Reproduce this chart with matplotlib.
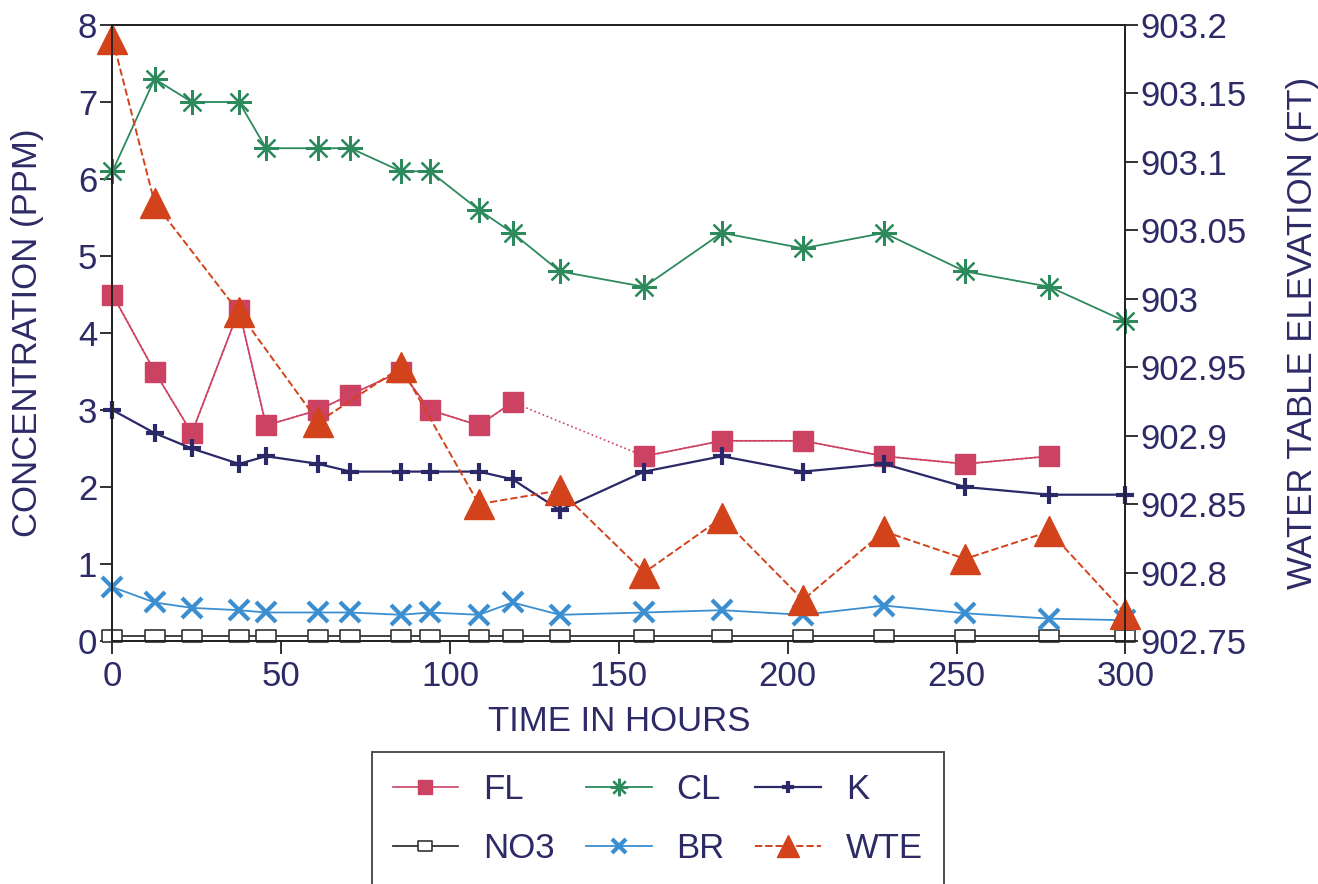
import numpy as np
import matplotlib.pyplot as plt
from matplotlib.ticker import FormatStrFormatter, MultipleLocator

plt.rcParams['font.family'] = ['Liberation Sans', 'DejaVu Sans']

# sampling times (hours)
hours = [0, 12.5, 23.5, 37.5, 45.5, 61, 70.5, 85.5, 94, 108.5, 118.5,
         132.5, 157.5, 180.5, 204.5, 228.5, 252.5, 277.5, 300]

# concentrations (ppm)
fl = [4.5, 3.5, 2.7, 4.3, 2.8, 3.0, 3.2, 3.5, 3.0, 2.8, 3.1,
      np.nan, 2.4, 2.6, 2.6, 2.4, 2.3, 2.4, np.nan]
cl = [6.1, 7.3, 7.0, 7.0, 6.4, 6.4, 6.4, 6.1, 6.1, 5.6, 5.3,
      4.8, 4.6, 5.3, 5.1, 5.3, 4.8, 4.6, 4.15]
k = [3.0, 2.7, 2.5, 2.3, 2.4, 2.3, 2.2, 2.2, 2.2, 2.2, 2.1,
     1.7, 2.2, 2.4, 2.2, 2.3, 2.0, 1.9, 1.9]
no3 = [0.06, 0.06, 0.06, 0.06, 0.06, 0.06, 0.06, 0.06, 0.06, 0.06, 0.06,
       0.06, 0.06, 0.06, 0.06, 0.06, 0.06, 0.06, 0.06]
br = [0.7, 0.5, 0.43, 0.4, 0.37, 0.37, 0.37, 0.34, 0.37, 0.34, 0.5,
      0.34, 0.37, 0.4, 0.34, 0.46, 0.36, 0.29, 0.27]

# water table elevation (ft)
wte = [903.19, 903.07, np.nan, 902.99, np.nan, 902.91, np.nan, 902.95, np.nan,
       902.85, np.nan, 902.86, 902.80, 902.84, 902.78, 902.83, 902.81, 902.83, 902.77]

navy = '#2d2a66'
c_fl = '#cc4262'
c_cl = '#2c8a5c'
c_k = '#2b2868'
c_no3 = '#333333'
c_br = '#3b8fd0'
c_wte = '#d2431c'

t = np.array(hours)
fl = np.array(fl)
wte = np.array(wte)

fig = plt.figure(figsize=(13.18, 8.84), dpi=100)
ax = fig.add_axes([0.0853, 0.2749, 0.7686, 0.6968])
ax2 = ax.twinx()

rect = [(-1.5, -1), (1.5, -1), (1.5, 1), (-1.5, 1), (-1.5, -1)]

okf = ~np.isnan(fl)
ax.plot(t[okf], fl[okf], ':', color=c_fl, lw=1.2, clip_on=False)
h_fl, = ax.plot(t, fl, '-', color=c_fl, lw=1.2, marker='s', ms=14,
                mfc=c_fl, mec=c_fl, clip_on=False, label='FL')
h_cl, = ax.plot(t, cl, '-', color=c_cl, lw=1.3, marker=(8, 2, 0), ms=18,
                mew=1.6, clip_on=False, label='CL')
h_k, = ax.plot(t, k, '-', color=c_k, lw=1.6, marker='+', ms=13,
               mew=3, clip_on=False, label='K')
h_no3, = ax.plot(t, no3, '-', color=c_no3, lw=1.3, marker=rect, ms=14,
                 mfc='white', mec=c_no3, mew=1.2, clip_on=False, label='NO3')
h_br, = ax.plot(t, br, '-', color=c_br, lw=1.3, marker='x', ms=14,
                mew=3, clip_on=False, label='BR')

okw = ~np.isnan(wte)
h_wte, = ax2.plot(t[okw], wte[okw], '--', color=c_wte, lw=1.4, marker='^',
                  ms=22, mfc=c_wte, mec=c_wte, clip_on=False, label='WTE')

ax.set_xlim(0, 300)
ax.set_ylim(0, 8)
ax2.set_ylim(902.75, 903.2)
ax.xaxis.set_major_locator(MultipleLocator(50))
ax.yaxis.set_major_locator(MultipleLocator(1))
ax2.yaxis.set_major_locator(MultipleLocator(0.05))
ax2.yaxis.set_major_formatter(FormatStrFormatter('%g'))

for a in (ax, ax2):
    a.tick_params(labelsize=25, labelcolor=navy, color='#222222',
                  direction='out', length=9, width=1.3, pad=2)
    for s in a.spines.values():
        s.set_color('#222222')
        s.set_linewidth(1.3)
ax.tick_params(axis='x', pad=5)

ax.set_xlabel('TIME IN HOURS', fontsize=25, color=navy, labelpad=8)
ax.set_ylabel('CONCENTRATION (PPM)', fontsize=25, color=navy, labelpad=24)
ax2.set_ylabel('WATER TABLE ELEVATION (FT)', fontsize=25, color=navy, labelpad=28)

handles = [h_fl, h_no3, h_cl, h_br, h_k, h_wte]
leg = fig.legend(handles=handles, labels=[h.get_label() for h in handles],
                 ncol=3, loc='upper left', bbox_to_anchor=(0.282, 0.149),
                 borderaxespad=0, fontsize=25, frameon=True, fancybox=False,
                 edgecolor='#222222', markerscale=0.7,
                 handlelength=1.9, handletextpad=0.7, columnspacing=0.9,
                 labelspacing=0.75, borderpad=0.6)
leg.get_frame().set_linewidth(1.4)
for txt in leg.get_texts():
    txt.set_color(navy)

fig.savefig('out.png', dpi=100)
